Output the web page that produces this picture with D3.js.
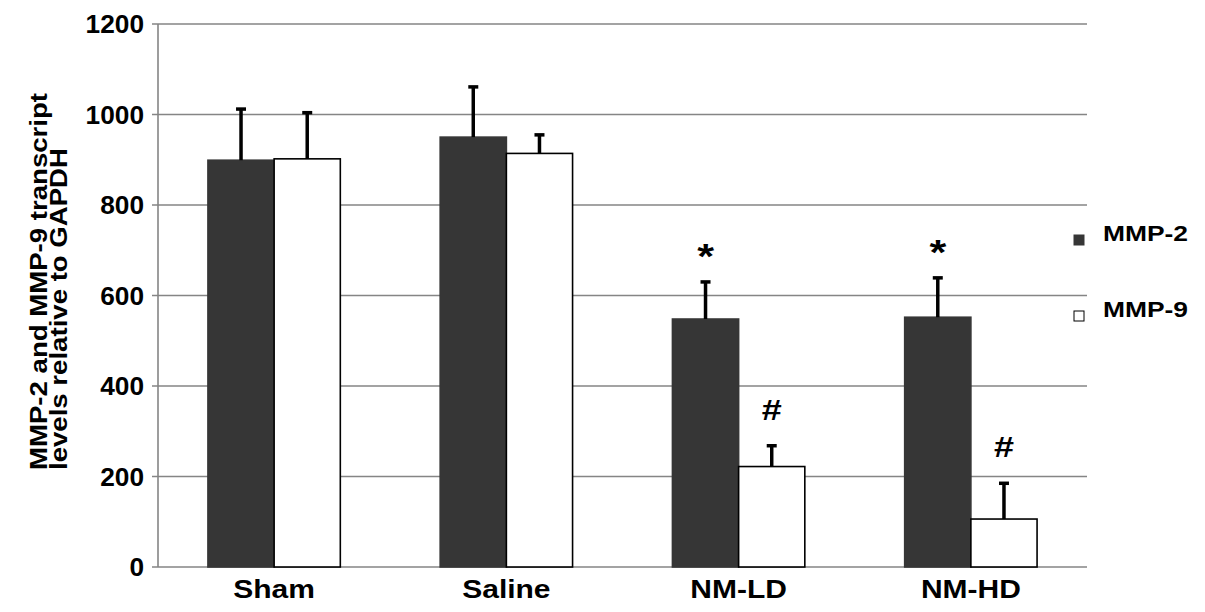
<!DOCTYPE html>
<html>
<head>
<meta charset="utf-8">
<script src="https://cdn.jsdelivr.net/npm/d3@7"></script>
<style>
  body { margin: 0; background: #fff; }
  text { font-family: "Liberation Sans", Arial, sans-serif; font-weight: bold; fill: #000; }
</style>
</head>
<body>
<div id="chart"></div>
<script>
// data
var groups = ["Sham", "Saline", "NM-LD", "NM-HD"];
var seriesNames = ["MMP-2", "MMP-9"];
var mmp2 = [899, 950, 548, 552];
var mmp2Err = [113, 111, 82, 87];
var mmp9 = [902, 914, 222, 106];
var mmp9Err = [102, 41, 46, 79];
var mmp2Marks = ["", "", "*", "*"];
var mmp9Marks = ["", "", "#", "#"];
var yTicks = [0, 200, 400, 600, 800, 1000, 1200];

var svgWidth = 1205;
var svgHeight = 612;

var margin = { top: 24, right: 118, bottom: 45, left: 158 };
var width = svgWidth - margin.left - margin.right;
var height = svgHeight - margin.top - margin.bottom;

// the figure's bold font runs wide, so text is stretched along its line
var stretch = 1.2;

var svg = d3.select("#chart")
  .append("svg")
  .attr("width", svgWidth)
  .attr("height", svgHeight);

var chartGroup = svg.append("g")
  .attr("transform", `translate(${margin.left}, ${margin.top})`);

var series = [
  { name: seriesNames[0], values: mmp2, err: mmp2Err, marks: mmp2Marks, fill: "#363636", stroke: "#363636" },
  { name: seriesNames[1], values: mmp9, err: mmp9Err, marks: mmp9Marks, fill: "#ffffff", stroke: "#000000" }
];

var x0 = d3.scaleBand()
  .domain(groups)
  .range([0, width])
  .paddingInner(0.43)
  .paddingOuter(0.215);

var x1 = d3.scaleBand()
  .domain(seriesNames)
  .range([0, x0.bandwidth()]);

var y = d3.scaleLinear()
  .domain([0, 1200])
  .range([height, 0]);

// gridlines
chartGroup.append("g")
  .selectAll("line")
  .data(yTicks)
  .enter()
  .append("line")
  .attr("x1", -6)
  .attr("x2", width)
  .attr("y1", d => y(d))
  .attr("y2", d => y(d))
  .attr("stroke", "#858585")
  .attr("stroke-width", 1.6);

// y axis line
chartGroup.append("line")
  .attr("x1", 0).attr("x2", 0)
  .attr("y1", y(1200)).attr("y2", y(0))
  .attr("stroke", "#858585")
  .attr("stroke-width", 1.6);

// y tick labels
chartGroup.append("g")
  .selectAll("text")
  .data(yTicks)
  .enter()
  .append("text")
  .attr("transform", d => `translate(-14, ${y(d)}) scale(1.05, 1)`)
  .attr("dy", "0.36em")
  .attr("text-anchor", "end")
  .attr("font-size", "25px")
  .text(d => d);

// bars
series.forEach(function(s) {
  var g = chartGroup.append("g");
  var cx = d => x0(d) + x1(s.name) + x1.bandwidth() / 2;

  g.selectAll("rect")
    .data(groups)
    .enter()
    .append("rect")
    .attr("x", d => x0(d) + x1(s.name))
    .attr("y", (d, i) => y(s.values[i]))
    .attr("width", x1.bandwidth())
    .attr("height", (d, i) => y(0) - y(s.values[i]))
    .attr("fill", s.fill)
    .attr("stroke", s.stroke)
    .attr("stroke-width", 1.6);

  // error bars
  g.selectAll("line.err")
    .data(groups)
    .enter()
    .append("line")
    .attr("class", "err")
    .attr("x1", cx)
    .attr("x2", cx)
    .attr("y1", (d, i) => y(s.values[i]))
    .attr("y2", (d, i) => y(s.values[i] + s.err[i]))
    .attr("stroke", "#000")
    .attr("stroke-width", 3.5);

  g.selectAll("line.cap")
    .data(groups)
    .enter()
    .append("line")
    .attr("class", "cap")
    .attr("x1", d => cx(d) - 5)
    .attr("x2", d => cx(d) + 5)
    .attr("y1", (d, i) => y(s.values[i] + s.err[i]))
    .attr("y2", (d, i) => y(s.values[i] + s.err[i]))
    .attr("stroke", "#000")
    .attr("stroke-width", 3.5);

  // significance marks
  g.selectAll("text")
    .data(groups)
    .enter()
    .append("text")
    .attr("transform", (d, i) => {
      var off = s.marks[i] === "*" ? 14 : 26;
      return `translate(${cx(d)}, ${y(s.values[i] + s.err[i]) - off}) scale(${stretch}, 1)`;
    })
    .attr("text-anchor", "middle")
    .attr("font-size", (d, i) => s.marks[i] === "*" ? "36px" : "30px")
    .text((d, i) => s.marks[i]);
});

// x labels
chartGroup.append("g")
  .selectAll("text")
  .data(groups)
  .enter()
  .append("text")
  .attr("transform", d => `translate(${x0(d) + x0.bandwidth() / 2}, ${height + 31}) scale(${stretch}, 1)`)
  .attr("text-anchor", "middle")
  .attr("font-size", "25px")
  .text(d => d);

// legend
var legend = svg.append("g")
  .attr("transform", `translate(${margin.left + width - 13}, 240)`);

var legendItems = legend.selectAll("g")
  .data(series)
  .enter()
  .append("g")
  .attr("transform", (d, i) => `translate(0, ${i * 76})`);

legendItems.append("rect")
  .attr("x", 0)
  .attr("y", -5)
  .attr("width", 10)
  .attr("height", 10)
  .attr("fill", d => d.fill)
  .attr("stroke", d => d.stroke)
  .attr("stroke-width", 1);

legendItems.append("text")
  .attr("transform", `translate(29, 1) scale(${stretch}, 1)`)
  .attr("font-size", "22px")
  .text(d => d.name);

// y axis title
var yTitle = svg.append("text")
  .attr("transform", `translate(0, 470) rotate(-90) scale(${stretch}, 1)`)
  .attr("text-anchor", "start")
  .attr("font-size", "23px");

yTitle.append("tspan")
  .attr("x", 0)
  .attr("y", 47)
  .text("MMP-2 and MMP-9 transcript");

yTitle.append("tspan")
  .attr("x", 0)
  .attr("y", 67)
  .text("levels relative to GAPDH");
</script>
</body>
</html>
